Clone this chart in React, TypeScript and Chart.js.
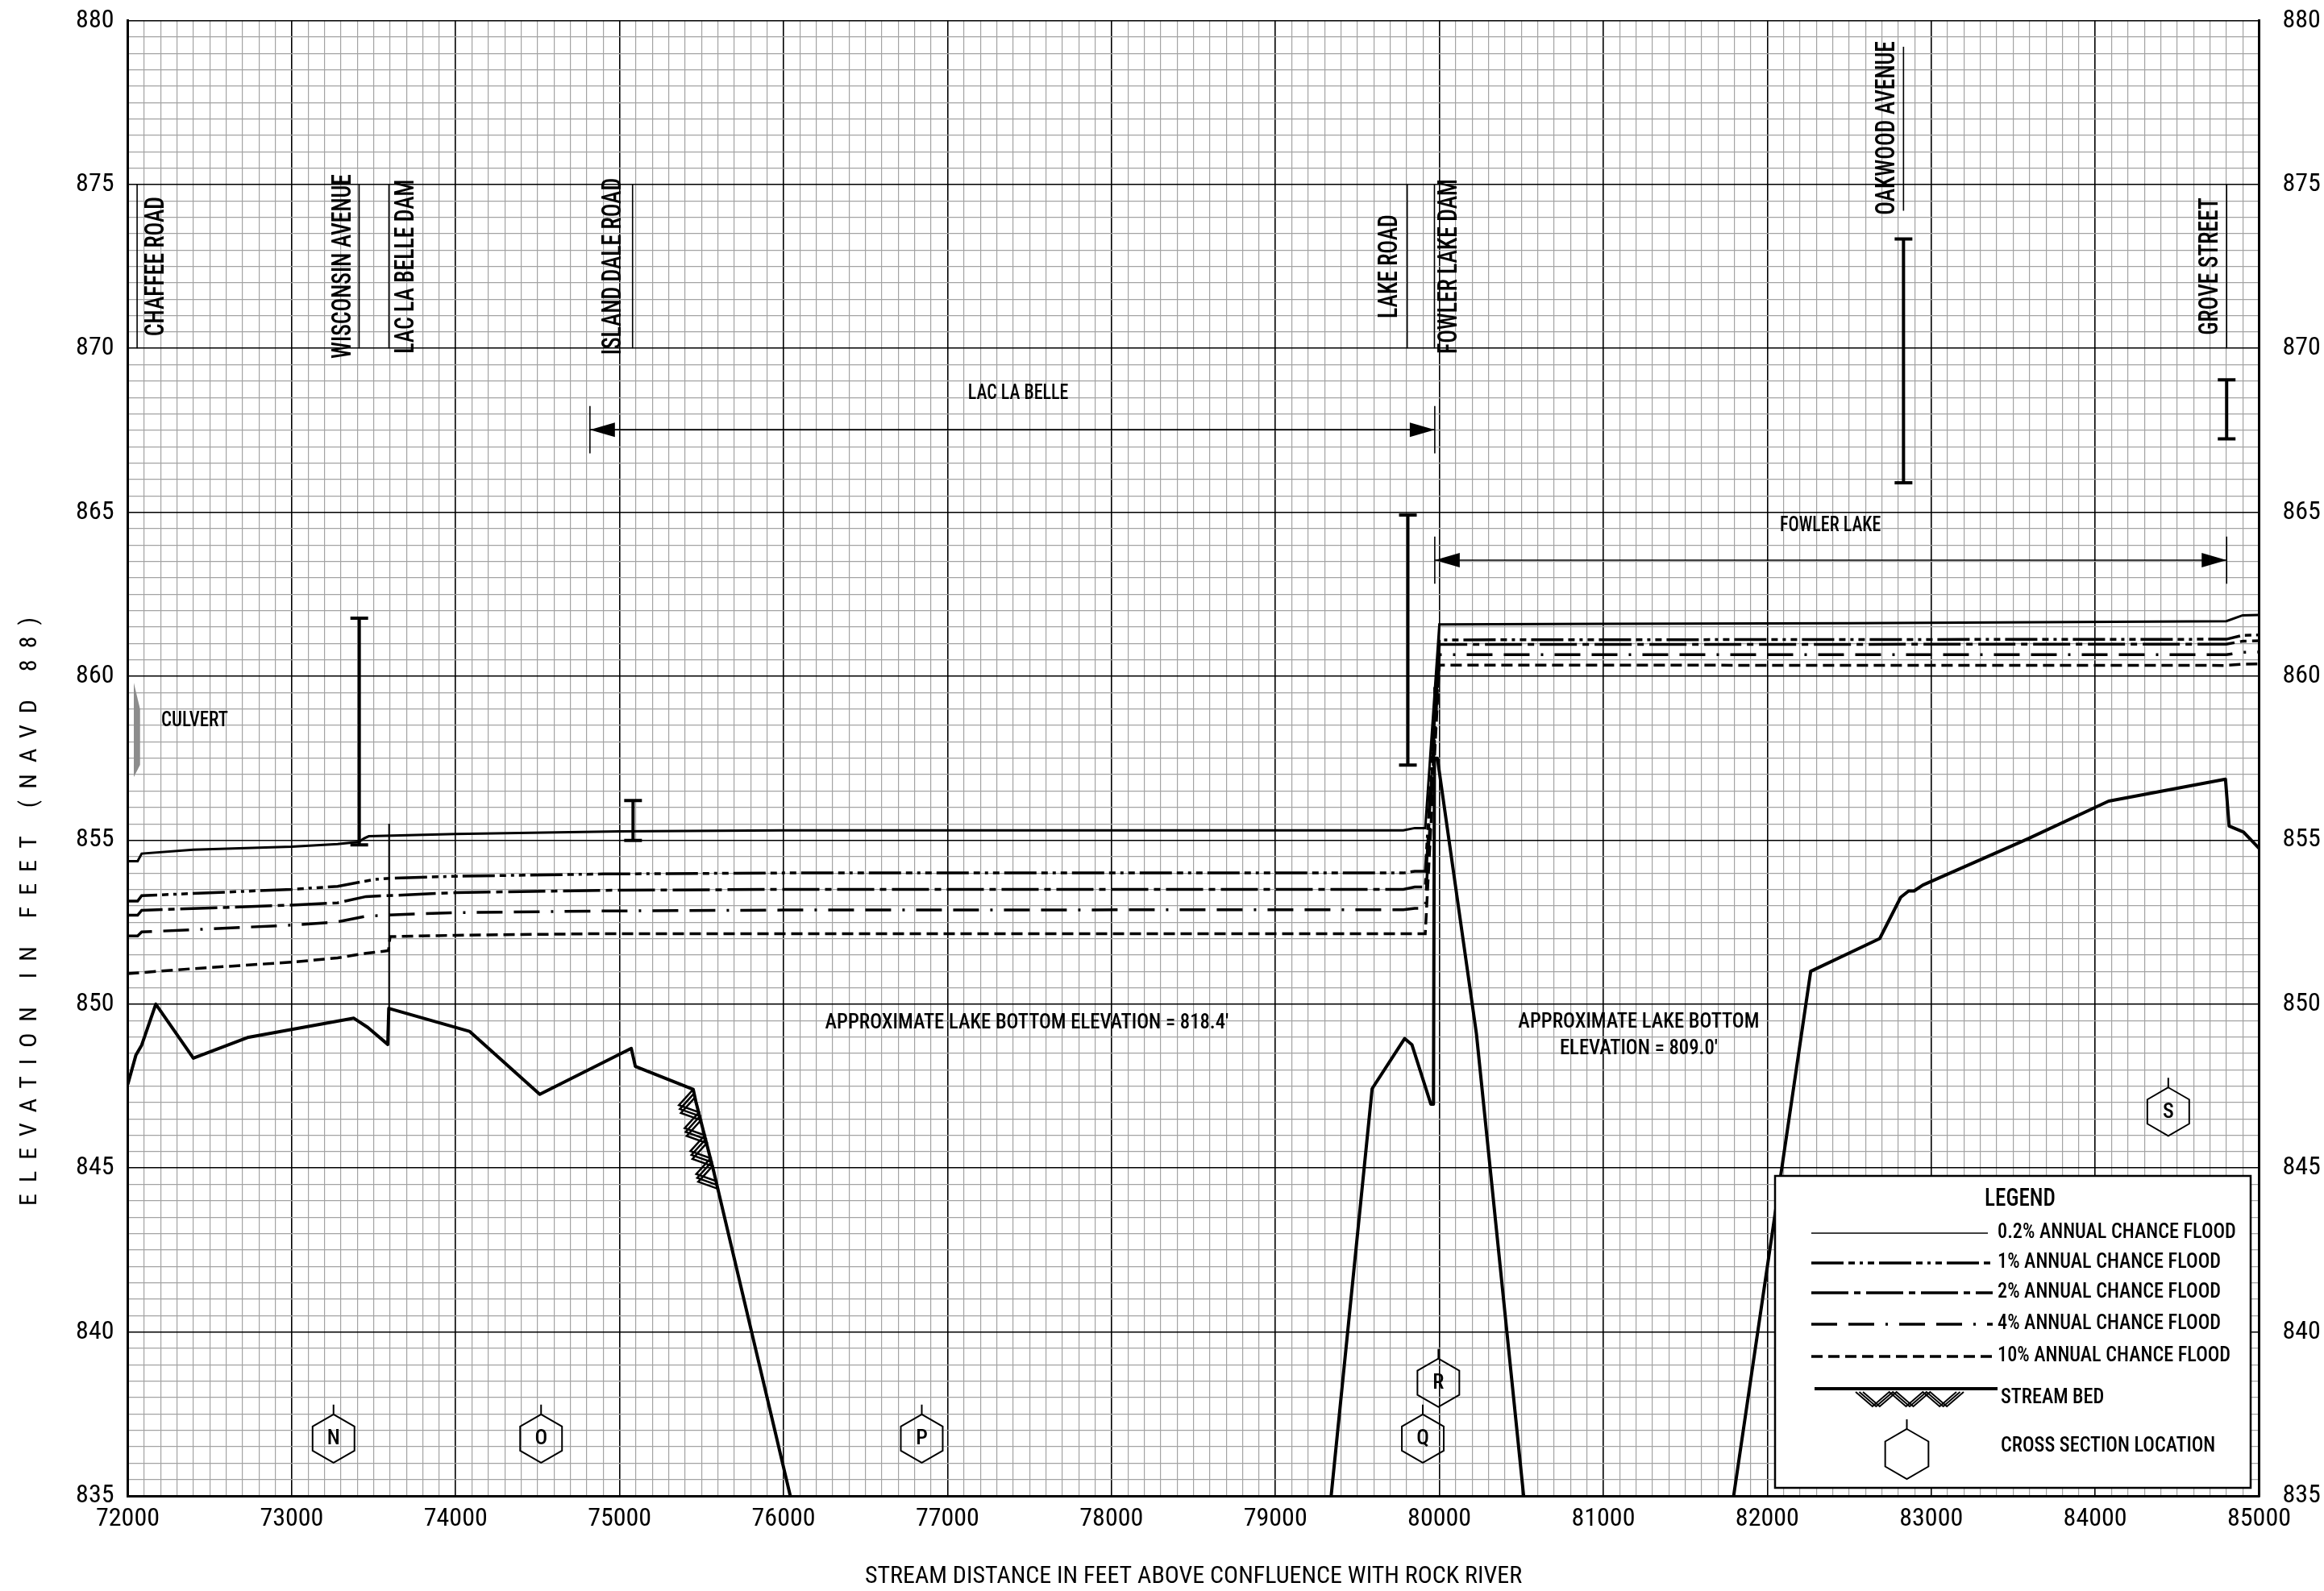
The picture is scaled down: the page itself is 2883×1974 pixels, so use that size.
import React, { useEffect, useRef } from 'react';
import { Chart, registerables } from 'chart.js';

Chart.register(...registerables);

type Pt = [number, number];

const FONT = '"Roboto Condensed", "Liberation Sans", sans-serif';

// ---------- axes ----------
const X_MIN = 72000;
const X_MAX = 85000;
const X_MINOR_STEP = 100;
const X_MAJOR_STEP = 1000;
const Y_MIN = 835;
const Y_MAX = 880;
const Y_MINOR_STEP = 0.5;
const Y_MAJOR_STEP = 5;
const X_TITLE = 'STREAM DISTANCE IN FEET ABOVE CONFLUENCE WITH ROCK RIVER';
const Y_TITLE = 'ELEVATION IN FEET (NAVD 88)';

// ---------- flood profiles (stream distance ft, elevation ft) ----------
const FLOOD_0_2: Pt[] = [
  [72000, 854.36], [72060, 854.36], [72085, 854.59], [72400, 854.71], [73000, 854.8],
  [73280, 854.88], [73410, 854.95], [73440, 855.05], [73470, 855.12], [74000, 855.19],
  [75000, 855.27], [76000, 855.3], [79780, 855.3], [79850, 855.37], [79914, 855.37],
  [80000, 861.58], [81000, 861.6], [82500, 861.62], [84800, 861.68], [84900, 861.86], [85000, 861.87],
];
const FLOOD_1: Pt[] = [
  [72000, 853.14], [72060, 853.14], [72085, 853.31], [73000, 853.5], [73280, 853.59],
  [73500, 853.8], [73600, 853.84], [74000, 853.9], [74900, 853.97], [76000, 854.0],
  [79780, 854.0], [79850, 854.05], [79914, 854.05],
  [80000, 861.11], [84800, 861.13], [84900, 861.25], [85000, 861.26],
];
const FLOOD_2: Pt[] = [
  [72000, 852.71], [72060, 852.71], [72085, 852.86], [73000, 853.02], [73280, 853.09],
  [73453, 853.28], [74000, 853.4], [74900, 853.47], [76000, 853.5], [79780, 853.5],
  [79850, 853.57], [79914, 853.57],
  [80000, 860.97], [84800, 860.98], [84900, 861.07], [85000, 861.08],
];
const FLOOD_4: Pt[] = [
  [72000, 852.08], [72060, 852.08], [72085, 852.2], [72392, 852.27], [73000, 852.41],
  [73280, 852.51], [73453, 852.68], [73595, 852.72], [74000, 852.79], [74900, 852.84],
  [76000, 852.87], [79780, 852.88], [79850, 852.92], [79914, 852.92],
  [80000, 860.66], [84800, 860.66], [84900, 860.73], [85000, 860.74],
];
const FLOOD_10: Pt[] = [
  [72000, 850.93], [72392, 851.08], [73000, 851.28], [73280, 851.41], [73453, 851.55],
  [73590, 851.63], [73600, 852.06], [74000, 852.1], [74900, 852.15], [76000, 852.15],
  [79914, 852.15],
  [80000, 860.34], [84800, 860.33], [84900, 860.37], [85000, 860.38],
];
const STREAM_BED: Pt[] = [
  [72000, 847.55], [72050, 848.45], [72085, 848.75], [72171, 850.0], [72400, 848.35],
  [72730, 848.98], [73379, 849.57], [73464, 849.29], [73586, 848.77], [73592, 849.87],
  [74084, 849.17], [74513, 847.25], [75071, 848.65], [75096, 848.1], [75449, 847.4],
  [75465, 847.03], [75572, 844.94], [76041, 835.0], [76800, 818.4], [78600, 818.4],
  [79340, 835.0], [79590, 847.42], [79788, 848.95], [79833, 848.76], [79948, 846.95],
  [79964, 846.95], [79970, 857.5], [79988, 857.5], [80226, 849.1], [80514, 835.0],
  [80900, 809.0], [81400, 809.0], [81795, 835.0], [82265, 851.0], [82686, 852.0],
  [82814, 853.26], [82862, 853.45], [82895, 853.45], [82949, 853.63], [83588, 855.04],
  [84082, 856.19], [84795, 856.86], [84817, 855.43], [84905, 855.25], [85000, 854.75],
];

const SERIES_NAMES = [
  '0.2% ANNUAL CHANCE FLOOD',
  '1% ANNUAL CHANCE FLOOD',
  '2% ANNUAL CHANCE FLOOD',
  '4% ANNUAL CHANCE FLOOD',
  '10% ANNUAL CHANCE FLOOD',
];
const SERIES = [FLOOD_0_2, FLOOD_1, FLOOD_2, FLOOD_4, FLOOD_10];
const SERIES_DASH: number[][] = [[], [40, 6, 8, 6, 4, 6, 8, 6], [46, 7, 8, 7], [32, 14, 32, 14, 3, 14], [14, 7]];
const SERIES_WIDTH = [3, 3.5, 3.5, 3.5, 3.5];

// ---------- structures ----------
const ROAD_NAMES = ['CHAFFEE ROAD', 'WISCONSIN AVENUE', 'LAC LA BELLE DAM', 'ISLAND DALE ROAD', 'LAKE ROAD', 'FOWLER LAKE DAM', 'OAKWOOD AVENUE', 'GROVE STREET'];
const ROAD_TEXT_X = [72177, 73319, 73703, 74965, 79700, 80067, 82734, 84705];
const ROAD_TEXT_Y = [872.5, 872.5, 872.5, 872.5, 872.5, 872.5, 876.72, 872.5];
const ROAD_LINE_X = [72057, 73411, 73593, 75079, 79804, 79970, 82831, 84802];
const ROAD_LINE_TOP = [875, 875, 875, 875, 875, 875, 879.2, 875];
const ROAD_LINE_BOTTOM = [870, 870, 870, 870, 870, 870, 874.2, 870];

const BAR_X = [73412, 75082, 79808, 82831, 84802];
const BAR_LOW = [854.86, 854.99, 857.29, 865.9, 867.24];
const BAR_HIGH = [861.77, 856.21, 864.92, 873.34, 869.04];

const DAM_X = [73594, 79968];
const DAM_LOW = [849.87, 846.95];
const DAM_HIGH = [855.5, 859.67];

const CULVERT_X = [72037, 72075, 72075, 72037];
const CULVERT_Y = [859.8, 859.0, 857.3, 856.93];

const XS_LABELS = ['N', 'O', 'P', 'Q', 'R', 'S'];
const XS_X = [73255, 74521, 76843, 79899, 79994, 84446];
const XS_Y = [836.75, 836.75, 836.75, 836.75, 838.45, 846.72];

const LAKE_NAMES = ['LAC LA BELLE', 'FOWLER LAKE'];
const LAKE_FROM = [74819, 79972];
const LAKE_TO = [79972, 84802];
const LAKE_ARROW_Y = [867.52, 863.54];
const LAKE_LABEL_X = [77431, 82385];
const LAKE_LABEL_Y = [868.6, 864.58];

const NOTE_TEXTS = ['CULVERT', "APPROXIMATE LAKE BOTTOM ELEVATION = 818.4'", 'APPROXIMATE LAKE BOTTOM', "ELEVATION = 809.0'"];
const NOTE_X = [72204, 77484, 81216, 81216];
const NOTE_Y = [858.63, 849.43, 849.45, 848.64];
const NOTE_ALIGN: CanvasTextAlign[] = ['left', 'center', 'center', 'center'];

const HATCH_FROM: Pt = [75449, 847.4];
const HATCH_TO: Pt = [75590, 844.6];

// ---------- drawing helpers ----------
function drawText(ctx: CanvasRenderingContext2D, str: string, x: number, y: number, size: number,
  opts: { rot?: boolean; sx?: number; align?: CanvasTextAlign; len?: number; spaced?: boolean; weight?: string } = {}) {
  ctx.save();
  ctx.translate(x, y);
  if (opts.rot) ctx.rotate(-Math.PI / 2);
  ctx.font = `${opts.weight ?? '500'} ${size}px ${FONT}`;
  (ctx as any).letterSpacing = '0px';
  let sx = opts.sx ?? 1;
  if (opts.len) {
    const w = ctx.measureText(str).width;
    if (opts.spaced) {
      const extra = (opts.len / sx - w) / Math.max(1, str.length - 1);
      (ctx as any).letterSpacing = `${extra}px`;
    } else {
      sx = opts.len / w;
    }
  }
  ctx.scale(sx, 1);
  ctx.fillStyle = '#000';
  ctx.textAlign = opts.align ?? 'center';
  ctx.textBaseline = 'middle';
  ctx.fillText(str, 0, 0);
  ctx.restore();
}

function seg(ctx: CanvasRenderingContext2D, x1: number, y1: number, x2: number, y2: number, w: number, dash: number[] = []) {
  ctx.save();
  ctx.lineWidth = w;
  ctx.strokeStyle = '#000';
  ctx.setLineDash(dash);
  ctx.lineCap = 'butt';
  ctx.beginPath();
  ctx.moveTo(x1, y1);
  ctx.lineTo(x2, y2);
  ctx.stroke();
  ctx.restore();
}

function hexagon(ctx: CanvasRenderingContext2D, cx: number, cy: number, r: number, label: string) {
  ctx.save();
  ctx.strokeStyle = '#000';
  ctx.lineWidth = 2;
  ctx.setLineDash([]);
  ctx.beginPath();
  for (let i = 0; i < 6; i++) {
    const a = -Math.PI / 2 + (i * Math.PI) / 3;
    const px = cx + r * Math.cos(a);
    const py = cy + r * Math.sin(a);
    if (i === 0) ctx.moveTo(px, py); else ctx.lineTo(px, py);
  }
  ctx.closePath();
  ctx.stroke();
  ctx.beginPath();
  ctx.moveTo(cx, cy - r);
  ctx.lineTo(cx, cy - r - 12);
  ctx.stroke();
  ctx.restore();
  if (label) drawText(ctx, label, cx, cy + 1, 26);
}

function zigzag(ctx: CanvasRenderingContext2D, ax: number, ay: number, bx: number, by: number,
  teeth: number, depth: number, copies: number, gap: number, w: number) {
  const dx = bx - ax, dy = by - ay;
  const L = Math.hypot(dx, dy);
  const ux = dx / L, uy = dy / L;
  const nx = -uy, ny = ux;
  ctx.save();
  ctx.lineWidth = w;
  ctx.strokeStyle = '#000';
  ctx.setLineDash([]);
  for (let c = 0; c < copies; c++) {
    ctx.beginPath();
    const n = teeth * 2;
    for (let k = 0; k <= n; k++) {
      const t = (k * L) / n + c * gap;
      const off = k % 2 ? depth : 0;
      const px = ax + ux * t + nx * off;
      const py = ay + uy * t + ny * off;
      if (k === 0) ctx.moveTo(px, py); else ctx.lineTo(px, py);
    }
    ctx.stroke();
  }
  ctx.restore();
}

function arrowHead(ctx: CanvasRenderingContext2D, tipX: number, y: number, dir: number) {
  ctx.save();
  ctx.fillStyle = '#000';
  ctx.beginPath();
  ctx.moveTo(tipX, y);
  ctx.lineTo(tipX + dir * 31, y - 9);
  ctx.lineTo(tipX + dir * 31, y + 9);
  ctx.closePath();
  ctx.fill();
  ctx.restore();
}

const overlayPlugin = {
  id: 'profileOverlay',
  afterDatasetsDraw(chart: any) {
    const { ctx, chartArea: ca, scales } = chart;
    const X = (v: number) => scales.x.getPixelForValue(v);
    const Y = (v: number) => scales.y.getPixelForValue(v);

    ctx.save();
    ctx.beginPath();
    ctx.rect(ca.left, ca.top, ca.right - ca.left, ca.bottom - ca.top);
    ctx.clip();

    ctx.save();
    ctx.fillStyle = '#8c8c8c';
    ctx.beginPath();
    CULVERT_X.forEach((cx, i) => {
      if (i === 0) ctx.moveTo(X(cx), Y(CULVERT_Y[i])); else ctx.lineTo(X(cx), Y(CULVERT_Y[i]));
    });
    ctx.closePath();
    ctx.fill();
    ctx.restore();

    ROAD_NAMES.forEach((name, i) => {
      seg(ctx, X(ROAD_LINE_X[i]), Y(ROAD_LINE_TOP[i]), X(ROAD_LINE_X[i]), Y(ROAD_LINE_BOTTOM[i]), 1.6);
      drawText(ctx, name, X(ROAD_TEXT_X[i]), Y(ROAD_TEXT_Y[i]), 33, { rot: true, sx: 0.84 });
    });

    BAR_X.forEach((bx, i) => {
      const px = X(bx);
      seg(ctx, px, Y(BAR_LOW[i]), px, Y(BAR_HIGH[i]), 4);
      seg(ctx, px - 11, Y(BAR_LOW[i]), px + 11, Y(BAR_LOW[i]), 4);
      seg(ctx, px - 11, Y(BAR_HIGH[i]), px + 11, Y(BAR_HIGH[i]), 4);
    });

    DAM_X.forEach((dx, i) => {
      seg(ctx, X(dx), Y(DAM_LOW[i]), X(dx), Y(DAM_HIGH[i]), 2);
    });

    LAKE_NAMES.forEach((name, i) => {
      const x1 = X(LAKE_FROM[i]), x2 = X(LAKE_TO[i]), py = Y(LAKE_ARROW_Y[i]);
      seg(ctx, x1, py, x2, py, 1.6);
      seg(ctx, x1, Y(LAKE_ARROW_Y[i] + 0.72), x1, Y(LAKE_ARROW_Y[i] - 0.72), 1.6);
      seg(ctx, x2, Y(LAKE_ARROW_Y[i] + 0.72), x2, Y(LAKE_ARROW_Y[i] - 0.72), 1.6);
      arrowHead(ctx, x1, py, 1);
      arrowHead(ctx, x2, py, -1);
      drawText(ctx, name, X(LAKE_LABEL_X[i]), Y(LAKE_LABEL_Y[i]), 25, { sx: 0.88 });
    });

    NOTE_TEXTS.forEach((t, i) => {
      drawText(ctx, t, X(NOTE_X[i]), Y(NOTE_Y[i]), 26, { align: NOTE_ALIGN[i], sx: i === 0 ? 0.88 : 0.95 });
    });

    zigzag(ctx, X(HATCH_FROM[0]), Y(HATCH_FROM[1]), X(HATCH_TO[0]), Y(HATCH_TO[1]), 4, 22, 3, 5, 2.5);

    XS_LABELS.forEach((lab, i) => hexagon(ctx, X(XS_X[i]), Y(XS_Y[i]), 30, lab));

    // legend
    const W = 590, H = 387;
    const L = ca.right - 10.5 - W, T = ca.bottom - 10 - H;
    ctx.save();
    ctx.fillStyle = '#fff';
    ctx.fillRect(L, T, W, H);
    ctx.lineWidth = 2.5;
    ctx.strokeStyle = '#000';
    ctx.strokeRect(L, T, W, H);
    ctx.restore();
    drawText(ctx, 'LEGEND', L + 304, T + 29, 32, { sx: 0.85 });
    const rows = [71, 108, 145, 184, 224];
    SERIES_NAMES.forEach((name, i) => {
      const ry = T + rows[i];
      seg(ctx, L + 45, ry, L + (i === 0 ? 264 : 270), ry, i === 0 ? 1.5 : 3.5, SERIES_DASH[i]);
      drawText(ctx, name, L + 276, ry, 25, { align: 'left', sx: 0.97 });
    });
    seg(ctx, L + 49, T + 264, L + 276, T + 264, 4);
    zigzag(ctx, L + 100, T + 268, L + 225, T + 268, 3, 18, 3, 4.5, 2);
    drawText(ctx, 'STREAM BED', L + 280, T + 276, 25, { align: 'left', sx: 0.97 });
    hexagon(ctx, L + 163.5, T + 345, 31, '');
    drawText(ctx, 'CROSS SECTION LOCATION', L + 280, T + 336, 25, { align: 'left', sx: 0.97 });

    ctx.restore();
  },
  afterDraw(chart: any) {
    const { ctx } = chart;
    drawText(ctx, Y_TITLE, 37, 1124, 30, { rot: true, len: 730, spaced: true, weight: 'normal' });
  },
};

function isMultiple(v: number, step: number) {
  const r = v / step;
  return Math.abs(r - Math.round(r)) < 1e-6;
}

export default function App() {
  const ref = useRef<HTMLCanvasElement>(null);

  useEffect(() => {
    document.body.style.margin = '0';
    const datasets: any[] = SERIES.map((pts, i) => ({
      label: SERIES_NAMES[i],
      data: pts.map(([x, y]) => ({ x, y })),
      borderColor: '#000',
      borderWidth: SERIES_WIDTH[i],
      borderDash: SERIES_DASH[i],
      pointRadius: 0,
      fill: false,
      tension: 0,
      clip: 0,
    }));
    datasets.push({
      label: 'STREAM BED',
      data: STREAM_BED.map(([x, y]) => ({ x, y })),
      borderColor: '#000',
      borderWidth: 4,
      borderJoinStyle: 'round',
      pointRadius: 0,
      fill: false,
      tension: 0,
      clip: 0,
    });

    const tickFont = { family: FONT, size: 32 };
    const chart = new Chart(ref.current as HTMLCanvasElement, {
      type: 'line',
      data: { datasets },
      options: {
        responsive: false,
        animation: false,
        devicePixelRatio: 1,
        layout: { padding: { top: 25.5, left: 0, right: 0, bottom: 0 } },
        plugins: { legend: { display: false }, tooltip: { enabled: false } },
        scales: {
          x: {
            type: 'linear',
            min: X_MIN,
            max: X_MAX,
            afterFit: (s: any) => { s.height = 118; s.paddingLeft = 0; s.paddingRight = 0; },
            ticks: {
              stepSize: X_MINOR_STEP,
              autoSkip: false,
              maxRotation: 0,
              minRotation: 0,
              padding: 10,
              color: '#000',
              font: tickFont,
              callback: (v: any) => (isMultiple(Number(v), X_MAJOR_STEP) ? String(Math.round(Number(v))) : ''),
            },
            grid: {
              drawTicks: false,
              color: (c: any) => (isMultiple(c.tick.value, X_MAJOR_STEP) ? '#000' : '#a3a3a3'),
              lineWidth: (c: any) => (isMultiple(c.tick.value, X_MAJOR_STEP) ? 1.6 : 1.2),
            },
            border: { color: '#000', width: 3 },
            title: {
              display: true,
              text: X_TITLE,
              color: '#000',
              font: { family: FONT, size: 30 },
              padding: { top: 0, bottom: 0 },
            },
          },
          y: {
            type: 'linear',
            position: 'left',
            min: Y_MIN,
            max: Y_MAX,
            afterFit: (s: any) => { s.width = 158.5; s.paddingTop = 0; s.paddingBottom = 0; },
            ticks: {
              stepSize: Y_MINOR_STEP,
              autoSkip: false,
              padding: 17,
              color: '#000',
              font: tickFont,
              callback: (v: any) => (isMultiple(Number(v), Y_MAJOR_STEP) ? String(Math.round(Number(v))) : ''),
            },
            grid: {
              drawTicks: false,
              color: (c: any) => (isMultiple(c.tick.value, Y_MAJOR_STEP) ? '#000' : '#a3a3a3'),
              lineWidth: (c: any) => (isMultiple(c.tick.value, Y_MAJOR_STEP) ? 1.6 : 1.2),
            },
            border: { color: '#000', width: 3 },
          },
          y2: {
            type: 'linear',
            position: 'right',
            min: Y_MIN,
            max: Y_MAX,
            afterFit: (s: any) => { s.width = 80.5; s.paddingTop = 0; s.paddingBottom = 0; },
            ticks: {
              stepSize: Y_MAJOR_STEP,
              padding: 29,
              color: '#000',
              font: tickFont,
              callback: (v: any) => String(Math.round(Number(v))),
            },
            grid: { display: false, drawTicks: false },
            border: { color: '#000', width: 3 },
          },
        },
      },
      plugins: [overlayPlugin],
    } as any);
    return () => chart.destroy();
  }, []);

  return <canvas ref={ref} width={2883} height={1974} style={{ display: 'block' }} />;
}
